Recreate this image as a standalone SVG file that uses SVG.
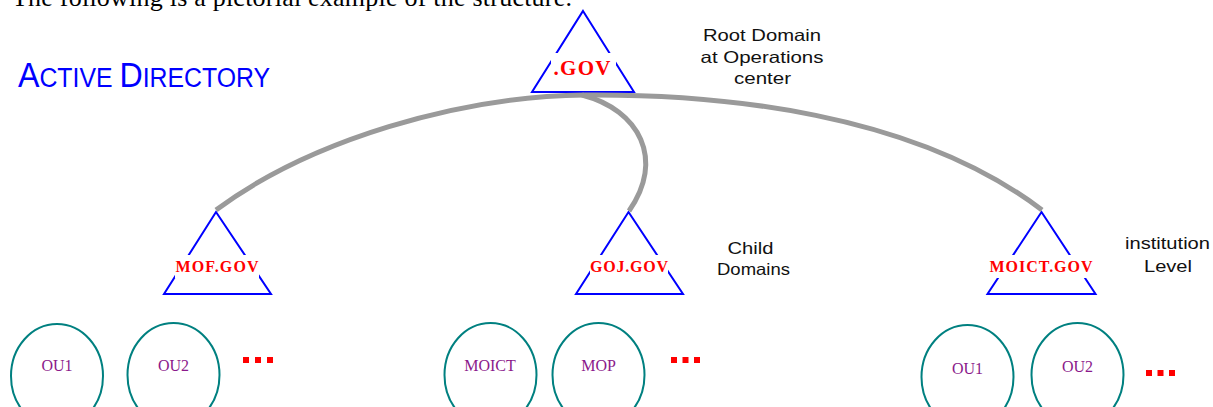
<svg xmlns="http://www.w3.org/2000/svg" width="1213" height="407" viewBox="0 0 1213 407">
  <style>
    .tri { fill: none; stroke: #0000ff; stroke-width: 2; stroke-linejoin: miter; }
    .mask { fill: #ffffff; stroke: none; }
    .dom { font-family: "Liberation Serif", "Times New Roman", serif; font-weight: bold; fill: #ff0000; text-anchor: middle; }
    .ou { fill: none; stroke: #008080; stroke-width: 2; }
    .oulabel { font-family: "Liberation Serif", "Times New Roman", serif; font-size: 16px; fill: #8b1a8b; text-anchor: middle; }
    .note { font-family: "Liberation Sans", Arial, sans-serif; font-size: 16.5px; fill: #111111; text-anchor: middle; }
    .dots { fill: #ff0000; }
    .link { fill: none; stroke: #9a9a9a; stroke-width: 5; stroke-linecap: butt; }
  </style>

  <!-- intro sentence, partly above the top edge -->
  <text x="12" y="6" font-family="Liberation Serif, Times New Roman, serif" font-size="26" fill="#000000" textLength="560" lengthAdjust="spacing">The following is a pictorial example of the structure.</text>

  <!-- title in small caps -->
  <text x="18" y="87" font-family="Liberation Sans, Arial, sans-serif" fill="#0000ff" textLength="252" lengthAdjust="spacingAndGlyphs"><tspan font-size="35">A</tspan><tspan font-size="27">CTIVE </tspan><tspan font-size="35">D</tspan><tspan font-size="27">IRECTORY</tspan></text>

  <!-- root domain -->
  <g id="root">
    <polygon class="tri" points="583,11 634,92 532,92"/>
    <rect class="mask" x="551" y="53" width="65" height="27"/>
    <text class="dom" x="582" y="75" font-size="21" textLength="57" lengthAdjust="spacing">.GOV</text>
  </g>

  <!-- child domains -->
  <g id="mof">
    <polygon class="tri" points="216,212 271,294 164,294"/>
    <rect class="mask" x="175" y="255" width="84" height="23"/>
    <text class="dom" x="217" y="272" font-size="16" textLength="83" lengthAdjust="spacing">MOF.GOV</text>
  </g>
  <g id="goj">
    <polygon class="tri" points="628.5,212 683,294 576,294"/>
    <rect class="mask" x="590" y="255" width="78" height="23"/>
    <text class="dom" x="629" y="272" font-size="16" textLength="78" lengthAdjust="spacing">GOJ.GOV</text>
  </g>
  <g id="moict">
    <polygon class="tri" points="1041.5,212 1095.5,294 987.5,294"/>
    <rect class="mask" x="989" y="255" width="104" height="23"/>
    <text class="dom" x="1041" y="272" font-size="16" textLength="103" lengthAdjust="spacing">MOICT.GOV</text>
  </g>

  <!-- side notes -->
  <g id="note-root">
    <text class="note" x="762" y="41" textLength="118" lengthAdjust="spacingAndGlyphs">Root Domain</text>
    <text class="note" x="762" y="63" textLength="123" lengthAdjust="spacingAndGlyphs">at Operations</text>
    <text class="note" x="762.5" y="84" textLength="57" lengthAdjust="spacingAndGlyphs">center</text>
  </g>
  <g id="note-child">
    <text class="note" x="750.5" y="254" textLength="46" lengthAdjust="spacingAndGlyphs">Child</text>
    <text class="note" x="753.5" y="275" textLength="73" lengthAdjust="spacingAndGlyphs">Domains</text>
  </g>
  <g id="note-inst">
    <text class="note" x="1167.5" y="248.5" textLength="85" lengthAdjust="spacingAndGlyphs">institution</text>
    <text class="note" x="1168" y="271.5" textLength="48" lengthAdjust="spacingAndGlyphs">Level</text>
  </g>

  <!-- organizational units -->
  <g id="mof-ou1">
    <ellipse class="ou" cx="57" cy="376" rx="46" ry="52"/>
    <text class="oulabel" x="57" y="371">OU1</text>
  </g>
  <g id="mof-ou2">
    <ellipse class="ou" cx="173.5" cy="375" rx="46" ry="52"/>
    <text class="oulabel" x="173.5" y="371">OU2</text>
  </g>
  <g id="mof-more">
    <rect class="dots" x="243" y="357" width="6" height="6"/>
    <rect class="dots" x="255" y="357" width="6" height="6"/>
    <rect class="dots" x="267" y="357" width="6" height="6"/>
  </g>

  <g id="goj-moict">
    <ellipse class="ou" cx="490.5" cy="375" rx="46" ry="52"/>
    <text class="oulabel" x="490" y="371">MOICT</text>
  </g>
  <g id="goj-mop">
    <ellipse class="ou" cx="598.5" cy="375" rx="46" ry="52"/>
    <text class="oulabel" x="598.5" y="371">MOP</text>
  </g>
  <g id="goj-more">
    <rect class="dots" x="671" y="357" width="6" height="6"/>
    <rect class="dots" x="682.5" y="357" width="6" height="6"/>
    <rect class="dots" x="694" y="357" width="6" height="6"/>
  </g>

  <g id="moict-ou1">
    <ellipse class="ou" cx="967.5" cy="377" rx="46" ry="52"/>
    <text class="oulabel" x="967.5" y="373.5">OU1</text>
  </g>
  <g id="moict-ou2">
    <ellipse class="ou" cx="1077.5" cy="375" rx="46" ry="52"/>
    <text class="oulabel" x="1077.5" y="372">OU2</text>
  </g>
  <g id="moict-more">
    <rect class="dots" x="1146" y="370" width="6" height="6"/>
    <rect class="dots" x="1157.5" y="370" width="6" height="6"/>
    <rect class="dots" x="1169" y="370" width="6" height="6"/>
  </g>

  <!-- trust links from the root to each child domain -->
  <g id="connectors">
    <path class="link" d="M216,210 C310,140 460,96 585,95"/>
    <path class="link" d="M585,95 C720,94 913,112 1042,210"/>
    <path class="link" d="M582,95 C640,110 665,160 629,211"/>
  </g>
</svg>
